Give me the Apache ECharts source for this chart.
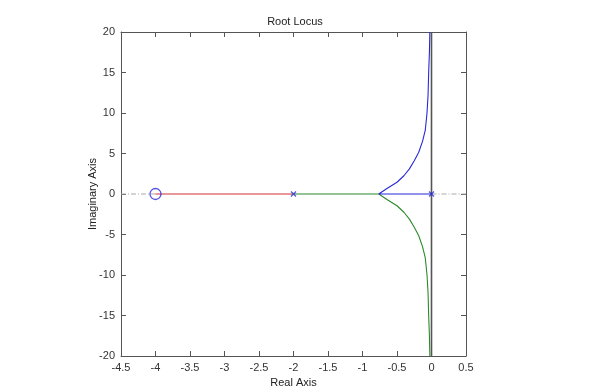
<!DOCTYPE html>
<html><head><meta charset="utf-8">
<script src="https://cdn.jsdelivr.net/npm/echarts@6/dist/echarts.min.js"></script>
<style>html,body{margin:0;padding:0;background:#fff}#c{width:590px;height:390px}</style>
</head><body><div id="c"></div>
<script>
// Data
const xTicks = [-4.5, 0.5, 0.5];   // min, max, interval
const yTicks = [-20, 20, 5];
const poles = [[-2, 0], [0, 0]];
const zeros = [[-4, 0]];
const redBranch = [[-2, 0], [-4, 0]];
const blueBranch = [[0, 0], [-0.764, 0], [-0.64, 0.7], [-0.5, 1.45], [-0.4, 2.25], [-0.32, 3.1], [-0.25, 4.1],
  [-0.185, 5.15], [-0.13, 6.5], [-0.09, 7.9], [-0.065, 10], [-0.05, 12.2], [-0.04, 15.3], [-0.03, 17.5], [-0.024, 20]];
const greenBranch = [[-2, 0], [-0.764, 0], [-0.64, -0.7], [-0.5, -1.45], [-0.4, -2.25], [-0.32, -3.1], [-0.25, -4.1],
  [-0.185, -5.15], [-0.13, -6.5], [-0.09, -7.9], [-0.065, -10], [-0.05, -12.2], [-0.04, -15.3], [-0.03, -17.5], [-0.024, -20]];
const asymptote = [[0, -20], [0, 20]];
const realAxisLine = [[-4.5, 0], [-4, 0], null, [0, 0], [0.5, 0]];

const font = 'Liberation Sans, Arial, sans-serif';
const chart = echarts.init(document.getElementById('c'));
const baseAxis = {
  axisLine: {show: true, onZero: false, lineStyle: {color: '#555', width: 1}},
  axisTick: {show: true, inside: true, length: 5, lineStyle: {color: '#555'}},
  splitLine: {show: false},
  axisLabel: {color: '#333', fontSize: 11, fontFamily: font}
};
chart.setOption({
  animation: false,
  backgroundColor: '#fff',
  title: {text: 'Root Locus', left: 'center', top: 11,
    textStyle: {fontSize: 11, fontWeight: 'normal', color: '#222', fontFamily: font}},
  grid: {left: 121, right: 124, top: 32, bottom: 34, containLabel: false, outerBoundsMode: 'none'},
  xAxis: [
    Object.assign({}, baseAxis, {type: 'value', min: xTicks[0], max: xTicks[1], interval: xTicks[2],
      name: 'Real Axis', nameLocation: 'middle', nameGap: 21, nameMoveOverlap: false,
      nameTextStyle: {color: '#222', fontSize: 11, fontFamily: font},
      axisLabel: {color: '#333', fontSize: 11, fontFamily: font, margin: 6}}),
    Object.assign({}, baseAxis, {type: 'value', position: 'top', min: xTicks[0], max: xTicks[1], interval: xTicks[2],
      axisLabel: {show: false}})
  ],
  yAxis: [
    Object.assign({}, baseAxis, {type: 'value', min: yTicks[0], max: yTicks[1], interval: yTicks[2],
      name: 'Imaginary Axis', nameLocation: 'middle', nameGap: 23, nameMoveOverlap: false,
      nameTextStyle: {color: '#222', fontSize: 11, fontFamily: font},
      axisLabel: {color: '#333', fontSize: 11, fontFamily: font, margin: 6}}),
    Object.assign({}, baseAxis, {type: 'value', position: 'right', min: yTicks[0], max: yTicks[1], interval: yTicks[2],
      axisLabel: {show: false}})
  ],
  series: [
    {type: 'line', data: realAxisLine, symbol: 'none', z: 1, connectNulls: false,
      lineStyle: {color: '#aaa', width: 1, type: [5, 2, 1, 2]}},
    {type: 'line', data: asymptote, symbol: 'none', z: 2,
      lineStyle: {color: '#555', width: 1.6}},
    {type: 'line', data: redBranch, symbol: 'none', z: 3, lineStyle: {color: '#d03030', width: 1.2}},
    {type: 'line', data: greenBranch, symbol: 'none', z: 3, lineStyle: {color: '#2a8a2a', width: 1.1}},
    {type: 'line', data: blueBranch, symbol: 'none', z: 4, lineStyle: {color: '#2828d8', width: 1.1}},
    {type: 'scatter', data: poles, z: 5, symbol: 'path://M0,0L10,10M10,0L0,10', symbolSize: 5,
      itemStyle: {color: 'none', borderColor: '#2828d8', borderWidth: 1.2}},
    {type: 'scatter', data: zeros, z: 5, symbol: 'circle', symbolSize: 11,
      itemStyle: {color: 'none', borderColor: '#2828d8', borderWidth: 1.3}}
  ]
});
</script></body></html>
